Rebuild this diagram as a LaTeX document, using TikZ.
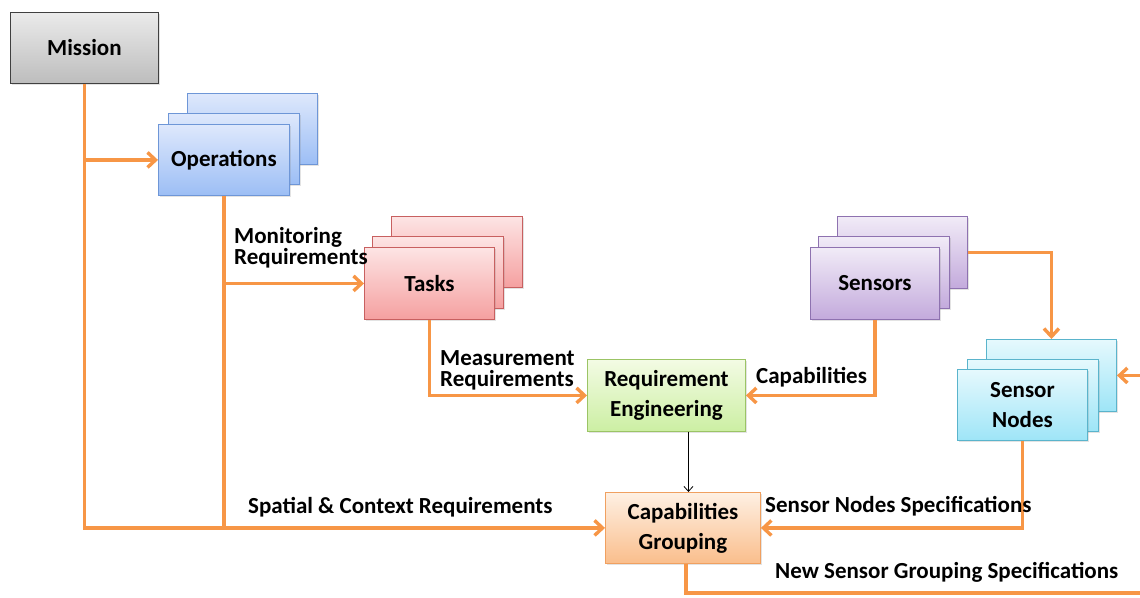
\documentclass[tikz,border=0pt]{standalone}
\usepackage{fontspec}
\setmainfont{Carlito}
\usetikzlibrary{arrows.meta,shadows}
\definecolor{org}{HTML}{F79646}
\begin{document}
\begin{tikzpicture}[x=1pt,y=-1pt,
  box/.style={draw, line width=0.9pt, anchor=north west, inner sep=0pt, align=center,
    font=\bfseries\fontsize{23}{30}\selectfont,
    drop shadow={opacity=0.22, shadow xshift=1.5pt, shadow yshift=-1.8pt}},
  grayb/.style={box, top color=black!8, bottom color=black!26, draw=black!75},
  blueb/.style={box, top color={rgb,255:red,222;green,232;blue,252}, bottom color={rgb,255:red,156;green,190;blue,245}, draw={rgb,255:red,110;green,150;blue,215}},
  redb/.style={box, top color={rgb,255:red,253;green,228;blue,228}, bottom color={rgb,255:red,245;green,160;blue,160}, draw={rgb,255:red,200;green,96;blue,96}},
  purpb/.style={box, top color={rgb,255:red,241;green,235;blue,247}, bottom color={rgb,255:red,195;green,170;blue,220}, draw={rgb,255:red,142;green,114;blue,176}},
  cyanb/.style={box, top color={rgb,255:red,230;green,249;blue,253}, bottom color={rgb,255:red,158;green,229;blue,247}, draw={rgb,255:red,90;green,180;blue,204}},
  greenb/.style={box, top color={rgb,255:red,243;green,251;blue,228}, bottom color={rgb,255:red,204;green,239;blue,163}, draw={rgb,255:red,155;green,196;blue,101}},
  orangeb/.style={box, top color={rgb,255:red,254;green,240;blue,227}, bottom color={rgb,255:red,250;green,190;blue,140}, draw={rgb,255:red,240;green,160;blue,96}},
  link/.style={draw=org, line width=3.4pt},
  arr/.style={link, -{Straight Barb[length=8pt,width=15pt]}},
  thin/.style={draw=black, line width=0.8pt, -{Straight Barb[length=5pt,width=9pt]}},
  lbl/.style={anchor=west, inner sep=0pt, align=left, font=\bfseries\fontsize{23}{21}\selectfont}
]
\useasboundingbox (0,0) rectangle (1140,597);

% Mission
\node[grayb, minimum width=148pt, minimum height=71pt] (mission) at (10,12) {Mission};

% Operations stack
\node[blueb, minimum width=130pt, minimum height=71pt] (opsb) at (187,93) {};
\node[blueb, minimum width=131pt, minimum height=71pt] (opsm) at (168,113) {};
\node[blueb, minimum width=131pt, minimum height=71pt] (ops) at (158,124) {Operations};

% Tasks stack
\node[redb, minimum width=131pt, minimum height=71pt] (tasksb) at (391,216) {};
\node[redb, minimum width=131pt, minimum height=72pt] (tasksm) at (372,236) {};
\node[redb, minimum width=130pt, minimum height=72pt] (tasks) at (364,247) {Tasks};

% Sensors stack
\node[purpb, minimum width=130pt, minimum height=72pt] (sensb) at (837,216) {};
\node[purpb, minimum width=131pt, minimum height=72pt] (sensm) at (818,236) {};
\node[purpb, minimum width=129pt, minimum height=72pt] (sens) at (810,247) {Sensors};

% Sensor Nodes stack
\node[cyanb, minimum width=130pt, minimum height=72pt] (snb) at (986,339) {};
\node[cyanb, minimum width=131pt, minimum height=72pt] (snm) at (967,359) {};
\node[cyanb, minimum width=130pt, minimum height=71pt] (sn) at (957,369) {Sensor\\Nodes};

% Requirement Engineering
\node[greenb, minimum width=158pt, minimum height=72pt] (req) at (587,359) {Requirement\\Engineering};

% Capabilities Grouping
\node[orangeb, minimum width=155pt, minimum height=71pt] (capg) at (605,492) {Capabilities\\Grouping};

% connectors
\draw[arr] (mission.south) |- (capg.west);
\draw[arr] (mission.south |- ops.west) -- (ops.west);
\draw[link] (ops.south) -- (ops.south |- capg.west);
\draw[arr] (ops.south |- tasks.west) -- (tasks.west);
\draw[arr] (tasks.south) |- (req.west);
\draw[arr] (sens.south) |- (req.east);
\draw[arr] (sensb.east) -| (snb.north);
\draw[arr] (sn.south) |- (capg.east);
\coordinate (re1) at ([xshift=22pt]req.south);
\draw[thin] (re1) -- (re1 |- capg.north);
\coordinate (far) at (1160,593);
\draw[arr] ([xshift=3pt]capg.south) |- (far) |- (snb.east);

% labels
\node[lbl] (lmon) at (234,248) {Monitoring\\Requirements};
\node[lbl] (lmeas) at (440,370) {Measurement\\Requirements};
\node[lbl] (lcap) at (756,377) {Capabilities};
\node[lbl] (lsns) at (765,506) {Sensor Nodes Specifications};
\node[lbl] (lnew) at (775,572) {New Sensor Grouping Specifications};
\node[lbl] (lspat) at (248,507) {Spatial \& Context Requirements};
\end{tikzpicture}
\end{document}
